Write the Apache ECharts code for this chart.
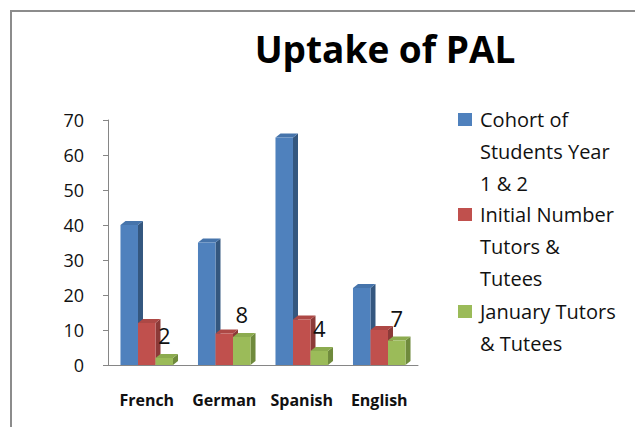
<!DOCTYPE html>
<html lang="en">

<head>
  <meta charset="UTF-8">
  <title>Uptake of PAL</title>
</head>

<body style="margin: 0; background: #fff">
  <div id="main" style="width: 635px; height: 427px"></div>

  <script src="https://cdn.jsdelivr.net/npm/echarts@6/dist/echarts.min.js"></script>

  <script>
    var languages = ['French', 'German', 'Spanish', 'English']
    var cohort = [40, 35, 65, 22]
    var initialTutors = [12, 9, 13, 10]
    var januaryTutors = [2, 8, 4, 7]
    var seriesNames = ['Cohort of\nStudents Year\n1 & 2', 'Initial Number\nTutors &\nTutees', 'January Tutors\n& Tutees']
    var yTicks = [0, 10, 20, 30, 40, 50, 60, 70]

    // front / side / top colours for the fake 3d columns
    var palette = [
      ['#4f81bd', '#34577f', '#4674ab'],
      ['#c0504d', '#8c3a38', '#ad4845'],
      ['#9bbb59', '#6f8a3c', '#8cab4f']
    ]
    var DX = 5, DY = 4

    function column(idx, withLabel) {
      return function (params, api) {
        var cat = api.value(0), val = api.value(1)
        var base = api.coord([cat, 0])
        var peak = api.coord([cat, val])
        var band = api.size([1, 0])[0]
        var w = band * 0.226
        var x0 = base[0] - 1.5 * w + idx * w
        var x1 = x0 + w
        var c = palette[idx]
        var kids = [
          { type: 'polygon', shape: { points: [[x1, peak[1]], [x1 + DX, peak[1] - DY], [x1 + DX, base[1] - DY], [x1, base[1]]] }, style: { fill: c[1] } },
          { type: 'polygon', shape: { points: [[x0, peak[1]], [x0 + DX, peak[1] - DY], [x1 + DX, peak[1] - DY], [x1, peak[1]]] }, style: { fill: c[2] } },
          { type: 'rect', shape: { x: x0, y: peak[1], width: w, height: base[1] - peak[1] }, style: { fill: c[0] } }
        ]
        if (withLabel) {
          kids.push({
            type: 'text', z2: 20,
            style: {
              text: String(val), x: (x0 + x1) / 2, y: peak[1] - 12,
              align: 'center', verticalAlign: 'bottom',
              fontSize: 22, fontFamily: 'Open Sans', fill: '#111'
            }
          })
        }
        return { type: 'group', children: kids }
      }
    }

    function pairs(arr) {
      return arr.map(function (v, i) { return [i, v] })
    }

    // legend drawn by hand so the swatch sits on the first text line
    var legendItems = []
    var legendTop = [104, 199, 296]
    seriesNames.forEach(function (name, i) {
      legendItems.push({ type: 'rect', left: 458, top: legendTop[i] + 9, shape: { width: 14, height: 13 }, style: { fill: palette[i][0] } })
      legendItems.push({
        type: 'text', left: 480, top: legendTop[i],
        style: { text: name, fontSize: 20, lineHeight: 31.7, fontFamily: 'Open Sans', fill: '#111' }
      })
    })

    var myChart = echarts.init(document.getElementById('main'), null, { renderer: 'svg' })

    var option = {
      animation: false,
      title: {
        text: 'Uptake of PAL',
        left: 380, top: 25, textAlign: 'center',
        textStyle: { fontSize: 37, fontWeight: 'bold', fontFamily: 'Open Sans', color: '#000' }
      },
      graphic: [
        { type: 'rect', shape: { x: 11, y: 11, width: 700, height: 500 }, style: { fill: 'none', stroke: '#8c8c8c', lineWidth: 2 } }
      ].concat(legendItems),
      grid: { left: 108, right: 217, top: 120, bottom: 62 },
      xAxis: {
        type: 'category',
        data: languages,
        axisLine: { lineStyle: { color: '#868686' } },
        axisTick: { length: 5, interval: 0, lineStyle: { color: '#868686' } },
        axisLabel: { interval: 0, margin: 27, fontSize: 16, fontWeight: 'bold', fontFamily: 'Open Sans', color: '#111' }
      },
      yAxis: {
        type: 'value',
        min: yTicks[0], max: yTicks[yTicks.length - 1], interval: 10,
        splitLine: { show: false },
        axisLine: { show: true, lineStyle: { color: '#868686' } },
        axisTick: { show: true, length: 5, lineStyle: { color: '#868686' } },
        axisLabel: { margin: 24, fontSize: 18, fontFamily: 'Open Sans', color: '#111' }
      },
      series: [
        { name: seriesNames[0], type: 'custom', renderItem: column(0, false), data: pairs(cohort) },
        { name: seriesNames[1], type: 'custom', renderItem: column(1, false), data: pairs(initialTutors) },
        { name: seriesNames[2], type: 'custom', renderItem: column(2, true), data: pairs(januaryTutors) }
      ]
    }

    myChart.setOption(option)
  </script>
</body>

</html>
